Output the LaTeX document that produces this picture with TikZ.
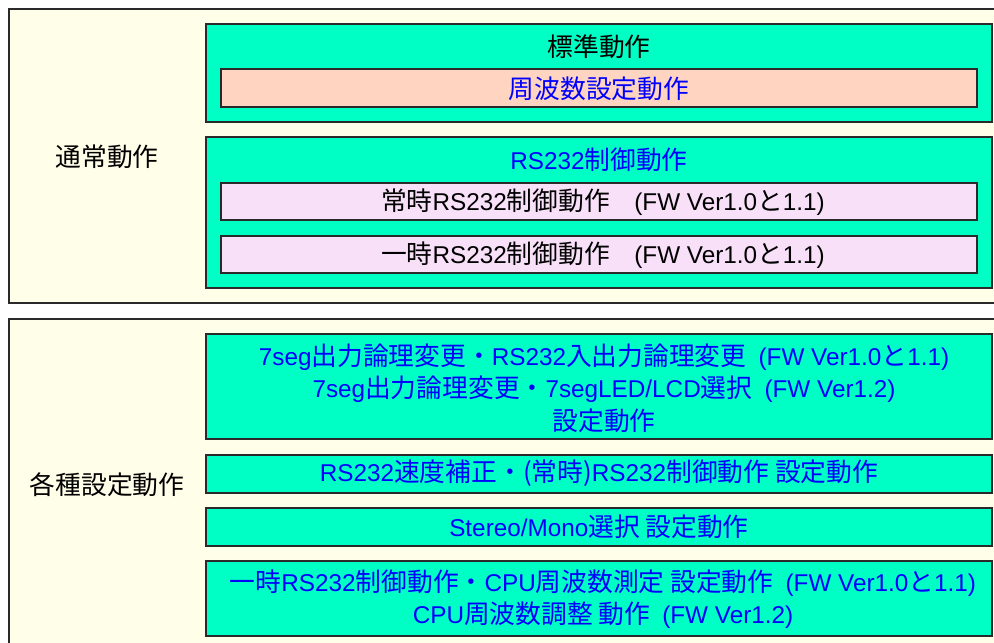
\documentclass[tikz,border=0pt]{standalone}
\usepackage{fontspec}
\setmainfont{Liberation Sans}
\newfontfamily\cjkfont[Scale=1.06]{Noto Sans CJK JP}
\newcommand{\jp}[1]{{\cjkfont #1}}
\definecolor{outerfill}{HTML}{FFFEE8}
\definecolor{grn}{HTML}{00FFC4}
\definecolor{salmon}{HTML}{FFD4C0}
\definecolor{pinkish}{HTML}{F9E0F9}
\definecolor{edge}{HTML}{2A2A2A}
\definecolor{bluetext}{HTML}{0000FF}
\begin{document}
\begin{tikzpicture}[x=1pt,y=-1pt,
  every node/.style={inner sep=0pt,outer sep=0pt},
  frame/.style={draw=edge,line width=1.2pt,fill=outerfill,anchor=north west},
  gbox/.style={draw=edge,line width=1.2pt,fill=grn,anchor=north west,minimum width=786pt},
  sbox/.style={draw=edge,line width=1.2pt,fill=salmon,anchor=north west,minimum width=756pt},
  pbox/.style={draw=edge,line width=1.2pt,fill=pinkish,anchor=north west,minimum width=756pt},
  lbl/.style={font=\fontsize{24.3}{32.5}\selectfont,text=black,align=center},
  blbl/.style={font=\fontsize{24.3}{32.5}\selectfont,text=bluetext,align=center}]
\useasboundingbox (0,0) rectangle (994,643);
% top frame
\node[frame,minimum width=1000pt,minimum height=294pt] (top) at (9,9) {};
\node[gbox,minimum height=98pt] (std) at (206,24) {};
\node[sbox,minimum height=38pt] (freq) at (221,69) {};
\node[gbox,minimum height=151pt] (rs) at (206,137) {};
\node[pbox,minimum height=37pt] (always) at (221,183) {};
\node[pbox,minimum height=37pt] (temp) at (221,236) {};
\node[lbl] (normal) at (107,157) {\jp{通常動作}};
\node[lbl] (stdt) at (599,47) {\jp{標準動作}};
\node[blbl] (freqt) at (599,89) {\jp{周波数設定動作}};
\node[blbl] (rst) at (599,160) {RS232\jp{制御動作}};
\node[lbl] (alwayst) at (603,202) {\jp{常時}RS232\jp{制御動作}\quad(FW Ver1.0\jp{と}1.1)};
\node[lbl] (tempt) at (603,255) {\jp{一時}RS232\jp{制御動作}\quad(FW Ver1.0\jp{と}1.1)};
% bottom frame
\node[frame,minimum width=1000pt,minimum height=340pt] (bot) at (9,319) {};
\node[gbox,minimum height=105pt] (seg) at (206,334) {};
\node[gbox,minimum height=38pt] (speed) at (206,455) {};
\node[gbox,minimum height=38pt] (stereo) at (206,508) {};
\node[gbox,minimum height=75pt] (cpu) at (206,561) {};
\node[lbl] (various) at (107,485) {\jp{各種設定動作}};
\node[blbl] (segt) at (604,388) {7seg\jp{出力論理変更・}RS232\jp{入出力論理変更}\enspace(FW Ver1.0\jp{と}1.1)\\7seg\jp{出力論理変更・}7segLED/LCD\jp{選択}\enspace(FW Ver1.2)\\\jp{設定動作}};
\node[blbl] (speedt) at (599,473) {RS232\jp{速度補正・(常時)}RS232\jp{制御動作 設定動作}};
\node[blbl] (stereot) at (599,527) {Stereo/Mono\jp{選択 設定動作}};
\node[blbl] (cput) at (603,599) {\jp{一時}RS232\jp{制御動作・}CPU\jp{周波数測定 設定動作}\enspace(FW Ver1.0\jp{と}1.1)\\CPU\jp{周波数調整 動作}\enspace(FW Ver1.2)};
\end{tikzpicture}
\end{document}
